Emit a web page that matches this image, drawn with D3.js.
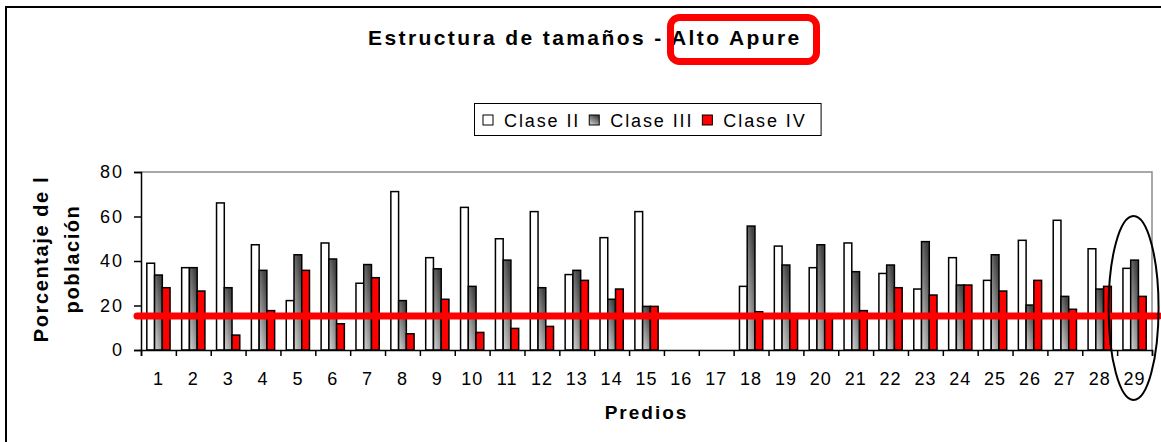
<!DOCTYPE html>
<html>
<head>
<meta charset="utf-8">
<script src="https://cdn.jsdelivr.net/npm/d3@7"></script>
<style>
    body { margin: 0; background: #fff; }
    text { font-family: "Liberation Sans", Arial, sans-serif; }
</style>
</head>
<body>
<script>

// data
var predios = ["1","2","3","4","5","6","7","8","9","10","11","12","13","14","15",
               "16","17","18","19","20","21","22","23","24","25","26","27","28","29"];
var series = ["Clase II", "Clase III", "Clase IV"];
var claseII  = [39.0, 37.0, 66.1, 47.3, 22.2, 48.1, 30.0, 71.2, 41.5, 64.1, 50.0, 62.2, 33.9, 50.5, 62.2,
                0, 0, 28.6, 46.7, 37.0, 48.1, 34.4, 27.4, 41.5, 31.3, 49.3, 58.3, 45.5, 36.7];
var claseIII = [33.7, 37.0, 28.0, 35.8, 42.8, 40.9, 38.4, 22.2, 36.5, 28.6, 40.4, 28.0, 35.8, 22.8, 19.6,
                0, 0, 55.7, 38.2, 47.3, 35.2, 38.2, 48.7, 29.2, 42.8, 20.2, 24.1, 27.4, 40.4];
var claseIV  = [28.0, 26.5, 6.7, 17.7, 35.8, 11.8, 32.5, 7.3, 22.8, 7.9, 9.7, 10.6, 31.3, 27.4, 19.6,
                0, 0, 17.2, 15.0, 15.5, 17.7, 28.0, 24.7, 29.2, 26.5, 31.3, 18.3, 28.6, 24.1];
var yTicks = [0, 20, 40, 60, 80];
var refLine = 15.3;      // red line drawn over the chart
var circled = "29";      // predio marked with the ellipse

var width = 1161;
var height = 442;

var svg = d3.select("body")
    .append("svg")
    .attr("width", width)
    .attr("height", height);

var defs = svg.append("defs");
var grad = defs.append("linearGradient")
    .attr("id", "gris")
    .attr("x1", 0).attr("y1", 1)
    .attr("x2", 0.6).attr("y2", 0);
grad.append("stop").attr("offset", "0%").attr("stop-color", "#d8d8d8");
grad.append("stop").attr("offset", "100%").attr("stop-color", "#444444");

var fills = ["#ffffff", "url(#gris)", "#ff0000"];

// outer frame (top and left only visible)
svg.append("path")
    .attr("d", "M6,442V7H1161")
    .attr("fill", "none")
    .attr("stroke", "#000")
    .attr("stroke-width", 2);

var plot = {left: 141, right: 1152, top: 172, bottom: 350};

var x0 = d3.scaleBand()
    .domain(predios)
    .range([plot.left, plot.right])
    .paddingInner(1 / 3)
    .paddingOuter(1 / 6);

var x1 = d3.scaleBand()
    .domain(series)
    .range([0, x0.bandwidth()]);

var y = d3.scaleLinear()
    .domain([0, 80])
    .range([plot.bottom, plot.top]);

var rows = predios.map(function(p, i) {
    return {predio: p, values: [claseII[i], claseIII[i], claseIV[i]]};
});

// plot area border (grey top / right)
svg.append("path")
    .attr("d", "M" + plot.left + "," + plot.top + "H" + plot.right + "V" + plot.bottom)
    .attr("fill", "none")
    .attr("stroke", "#8c8c8c")
    .attr("stroke-width", 1.5);

// bars
var groups = svg.append("g")
    .selectAll("g")
    .data(rows)
    .enter().append("g")
    .attr("transform", function(d) { return "translate(" + x0(d.predio) + ",0)"; });

groups.selectAll("rect")
    .data(function(d) {
        return d.values.map(function(v, k) { return {key: series[k], value: v, k: k}; })
            .filter(function(e) { return e.value > 0; });
    })
    .enter().append("rect")
    .attr("x", function(d) { return x1(d.key); })
    .attr("y", function(d) { return y(d.value); })
    .attr("width", x1.bandwidth())
    .attr("height", function(d) { return y(0) - y(d.value); })
    .attr("fill", function(d) { return fills[d.k]; })
    .attr("stroke", "#000")
    .attr("stroke-width", 1.5);

// y axis
var yAxis = svg.append("g")
    .attr("transform", "translate(" + plot.left + ",0)")
    .call(d3.axisLeft(y).tickValues(yTicks).tickSize(7).tickPadding(10));
yAxis.selectAll("text")
    .attr("font-size", 18)
    .attr("letter-spacing", "2px")
    .attr("fill", "#000");

// x axis: tick marks between predios, labels under each one
var xb = d3.scaleLinear().domain([0, predios.length]).range([plot.left, plot.right]);
var xAxis = svg.append("g")
    .attr("transform", "translate(0," + plot.bottom + ")")
    .call(d3.axisBottom(xb).tickValues(d3.range(predios.length + 1)).tickSize(6).tickFormat(""));

var xLab = svg.append("g")
    .attr("transform", "translate(0," + plot.bottom + ")")
    .call(d3.axisBottom(x0).tickSize(0).tickPadding(22));
xLab.select(".domain").remove();
xLab.selectAll("text")
    .attr("font-size", 18)
    .attr("letter-spacing", "1px")
    .attr("fill", "#000");

svg.selectAll(".domain, .tick line")
    .attr("stroke", "#000")
    .attr("stroke-width", 1.5);

// titles
svg.append("text")
    .attr("x", 368)
    .attr("y", 45)
    .attr("font-size", 21)
    .attr("font-weight", "bold")
    .attr("letter-spacing", "2.4px")
    .text("Estructura de tamaños - Alto Apure");

svg.append("rect")
    .attr("x", 670.5)
    .attr("y", 17.5)
    .attr("width", 146)
    .attr("height", 44)
    .attr("rx", 9)
    .attr("fill", "none")
    .attr("stroke", "#ff0000")
    .attr("stroke-width", 7);

svg.append("text")
    .attr("x", (plot.left + plot.right) / 2)
    .attr("y", 419)
    .attr("text-anchor", "middle")
    .attr("font-size", 19)
    .attr("font-weight", "bold")
    .attr("letter-spacing", "2px")
    .text("Predios");

var yTitle = svg.append("text")
    .attr("transform", "translate(48," + 259 + ") rotate(-90)")
    .attr("text-anchor", "middle")
    .attr("font-size", 20)
    .attr("font-weight", "bold")
    .attr("letter-spacing", "1.6px");
yTitle.append("tspan").attr("x", 0).attr("y", 0).text("Porcentaje de l");
yTitle.append("tspan").attr("x", 0).attr("y", 31).text("población");

// legend
var legend = svg.append("g");
var lx = 483;
series.forEach(function(s, k) {
    legend.append("rect")
        .attr("x", lx)
        .attr("y", 115)
        .attr("width", 10)
        .attr("height", 10)
        .attr("fill", fills[k])
        .attr("stroke", "#000")
        .attr("stroke-width", 1);
    var t = legend.append("text")
        .attr("x", lx + 21)
        .attr("y", 127)
        .attr("font-size", 18)
        .attr("letter-spacing", "1.9px")
        .text(s);
    lx = lx + 21 + t.node().getComputedTextLength() + 9;
});
legend.insert("rect", ":first-child")
    .attr("x", 474.5)
    .attr("y", 103.5)
    .attr("width", lx - 474 + 5)
    .attr("height", 32)
    .attr("fill", "#fff")
    .attr("stroke", "#000")
    .attr("stroke-width", 1);

// red reference line
svg.append("line")
    .attr("x1", plot.left - 4)
    .attr("x2", plot.right + 7)
    .attr("y1", y(refLine))
    .attr("y2", y(refLine))
    .attr("stroke", "#ff0000")
    .attr("stroke-width", 7)
    .attr("stroke-linecap", "round");

// ellipse around predio 29
svg.append("ellipse")
    .attr("cx", x0(circled) + x0.bandwidth() / 2 - 1)
    .attr("cy", 308)
    .attr("rx", 25)
    .attr("ry", 92)
    .attr("fill", "none")
    .attr("stroke", "#000")
    .attr("stroke-width", 2);

</script>
</body>
</html>
